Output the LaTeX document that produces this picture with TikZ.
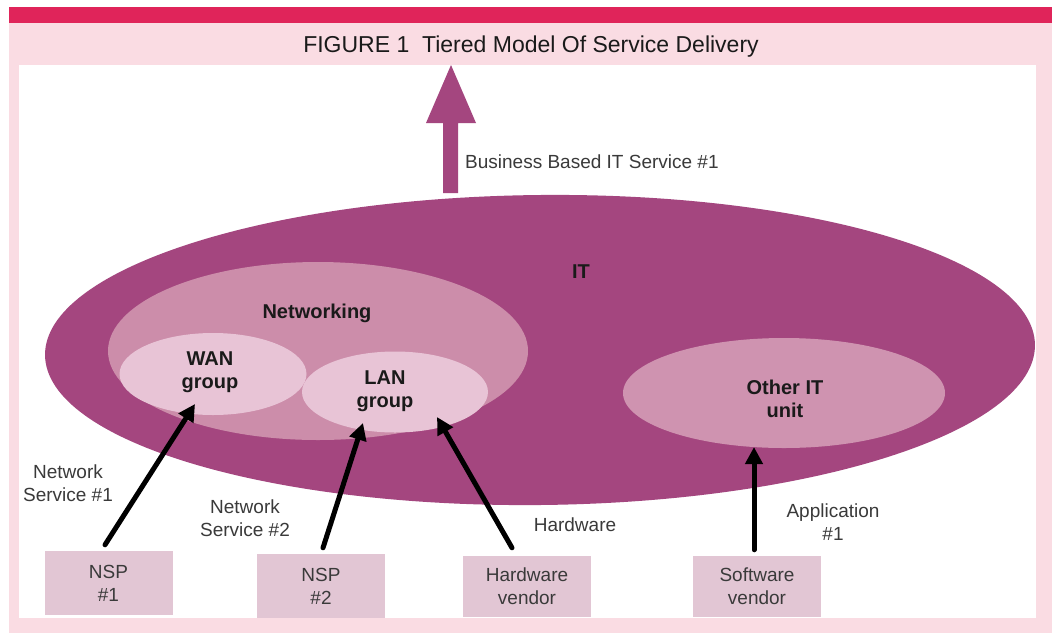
\documentclass[tikz,border=0pt]{standalone}
\usepackage{fontspec}
\setmainfont{Liberation Sans}
\usetikzlibrary{shapes.geometric,arrows.meta}

\definecolor{bandred}{HTML}{E0245A}
\definecolor{panelpink}{HTML}{FADCE3}
\definecolor{itpurple}{HTML}{A4467F}
\definecolor{netmauve}{HTML}{CC8DAA}
\definecolor{othermauve}{HTML}{CF93B0}
\definecolor{grouppink}{HTML}{E8C4D6}
\definecolor{vendorpink}{HTML}{E2C6D4}
\definecolor{labelgrey}{HTML}{3A3A3A}
\definecolor{inkdark}{HTML}{1A1A1A}

\newcommand\lblfont{\fontsize{19}{23}\selectfont}
\newcommand\boldlbl{\fontsize{20}{23}\selectfont\bfseries}
\newcommand\headfont{\fontsize{23}{27}\selectfont}

\begin{document}
\begin{tikzpicture}[x=1pt,y=-1pt,
  blob/.style={ellipse, inner sep=0pt, draw=none},
  vendorbox/.style={rectangle, fill=vendorpink, minimum width=128pt,
    minimum height=62pt, inner sep=0pt, align=center, font=\lblfont,
    text=labelgrey},
  plainlbl/.style={align=center, font=\lblfont, text=labelgrey, inner sep=0pt},
  boldtag/.style={align=center, font=\boldlbl, text=inkdark, inner sep=0pt},
  supply/.style={line width=5pt, line cap=round, draw=black,
    -{Triangle[length=17pt,width=17pt]}}]

\useasboundingbox (0,0) rectangle (1052,633);
\fill[white] (0,0) rectangle (1052,633);

% frame: red band, pink panel, white drawing area
\fill[bandred] (9,7) rectangle (1052,23);
\fill[panelpink] (9,23) rectangle (1052,633);
\fill[white] (19,65) rectangle (1036,618);

\node[font=\headfont, text=inkdark, inner sep=0pt] (title) at (531,47)
  {FIGURE 1\ \ Tiered Model Of Service Delivery};

% outgoing service arrow
\fill[itpurple] (443,193) -- (443,123) -- (426,123) -- (451,65)
  -- (476,123) -- (458,123) -- (458,193) -- cycle;
\node[plainlbl, anchor=west] (bizsvc) at (465,162) {Business Based IT Service \#1};

% organisation ellipses
\node[blob, fill=itpurple, minimum width=990pt, minimum height=310pt,
  rotate=0.6] (it) at (540,350) {};
\node[blob, fill=netmauve, minimum width=420pt, minimum height=178pt]
  (net) at (318,351) {};
\node[blob, fill=grouppink, minimum width=187pt, minimum height=82pt]
  (wan) at (213,374) {};
\node[blob, fill=grouppink, minimum width=186pt, minimum height=81pt]
  (lan) at (395,392) {};
\node[blob, fill=othermauve, minimum width=322pt, minimum height=110pt]
  (other) at (784,393) {};

\node[boldtag] (itlbl) at (581,272) {IT};
\node[boldtag] (netlbl) at (317,313) {Networking};
\node[boldtag] (wanlbl) at (210,372) {WAN\\group};
\node[boldtag] (lanlbl) at (385,391) {LAN\\group};
\node[boldtag] (otherlbl) at (785,399) {Other IT\\unit};

% suppliers
\node[vendorbox, minimum height=64pt] (nsp1) at (108.5,583) {NSP\\\#1};
\node[vendorbox, minimum height=64pt] (nsp2) at (321,586) {NSP\\\#2};
\node[vendorbox, minimum height=61pt] (hw) at (527,586.5) {Hardware\\vendor};
\node[vendorbox, minimum height=61pt] (sw) at (757,586.5) {Software\\vendor};

% supply relations
\draw[supply] ([xshift=-3.5pt,yshift=6pt]nsp1.north)
  -- ([xshift=-18pt,yshift=-30pt]wan.center);
\draw[supply] ([xshift=2pt,yshift=6pt]nsp2.north)
  -- ([xshift=-32pt,yshift=-31pt]lan.center);
\draw[supply] ([xshift=-15pt,yshift=8pt]hw.north)
  -- ([xshift=42pt,yshift=-25pt]lan.center);
\draw[supply] ([xshift=-3pt,yshift=6pt]sw.north)
  -- ([xshift=-30pt,yshift=-54pt]other.center);

\node[plainlbl] (ns1lbl) at (68,483) {Network\\Service \#1};
\node[plainlbl] (ns2lbl) at (245,518) {Network\\Service \#2};
\node[plainlbl] (hwlbl) at (575,525) {Hardware};
\node[plainlbl] (applbl) at (833,522) {Application\\\#1};

\end{tikzpicture}
\end{document}
